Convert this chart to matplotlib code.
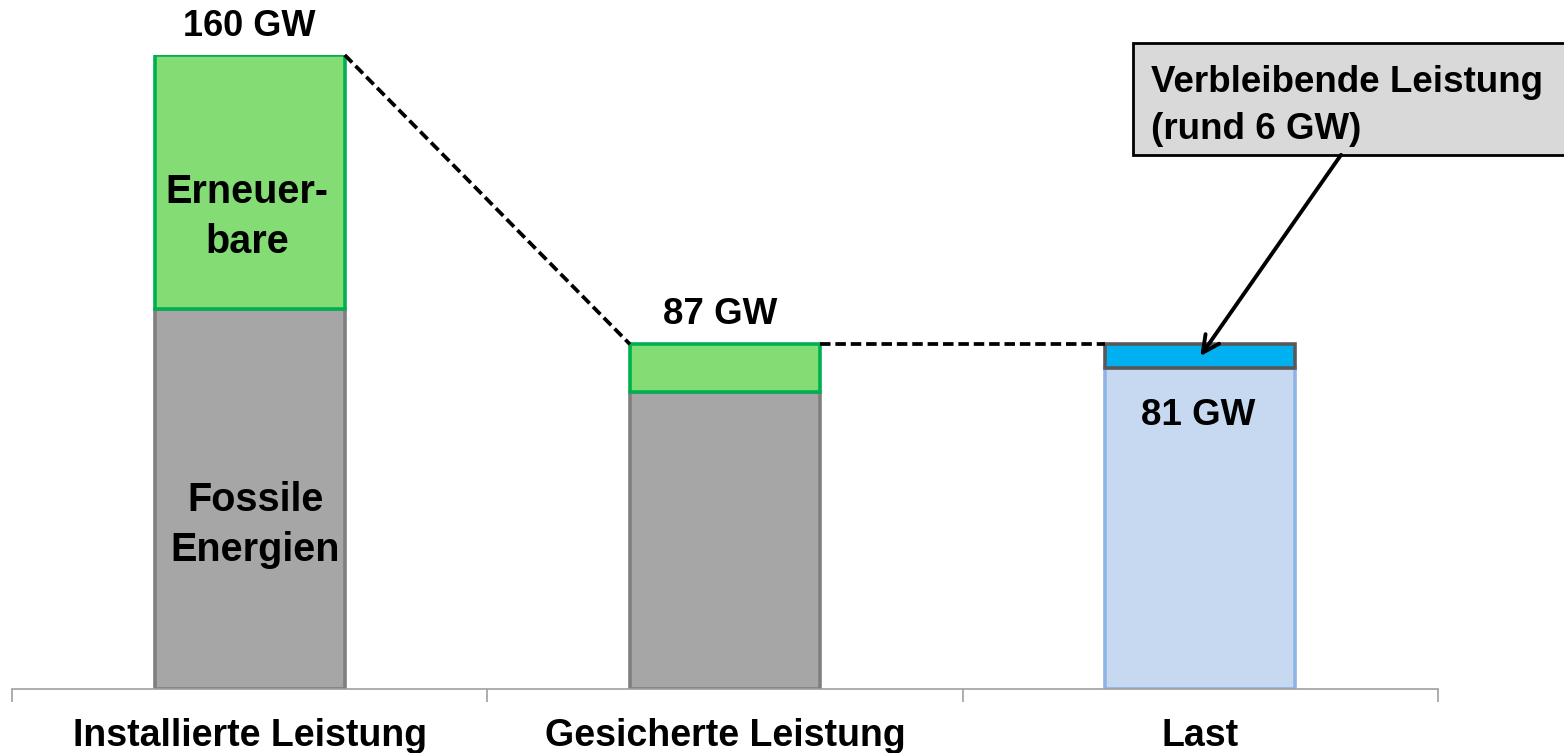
import matplotlib
matplotlib.use('Agg')
import matplotlib.pyplot as plt
from matplotlib.patches import Rectangle

plt.rcParams['font.family'] = ['Liberation Sans', 'DejaVu Sans']
plt.rcParams['font.weight'] = 'bold'

# capacity in GW
categories = ['Installierte Leistung', 'Gesicherte Leistung', 'Last']
fossil = [96, 75]          # Fossile Energien (bars 1 and 2)
renewable = [64, 12]       # Erneuerbare (bars 1 and 2)
load = 81                  # Last
remaining = 6              # verbleibende Leistung
totals = [160, 87]

fig = plt.figure(figsize=(15.64, 7.53), dpi=100)
ax = fig.add_axes([12 / 1564, 64 / 753, 1426 / 1564, 634 / 753])
ax.set_xlim(-0.5, 2.5)
ax.set_ylim(0, 160)

w = 0.4
green_face, green_edge = '#84dc74', '#00b050'
grey_face, grey_edge = '#a6a6a6', '#7f7f7f'

# installed and secured capacity: fossil + renewables
ax.bar([0, 1], fossil, width=w, color=grey_face, edgecolor=grey_edge, linewidth=2.6, zorder=2)
ax.bar([0, 1], renewable, bottom=fossil, width=w, color=green_face, edgecolor=green_edge,
       linewidth=2.6, zorder=3)

# load with the remaining margin on top
ax.bar(2, load, width=w, color='#c6d9f1', edgecolor='#8eb4e3', linewidth=2.6, zorder=2)
ax.bar(2, remaining, bottom=load, width=w, color='#00b0f0', edgecolor='#595959',
       linewidth=2.6, zorder=3)

# dashed connectors between bar tops
dash = (0, (2.8, 1.3))
ax.plot([w / 2, 1 - w / 2], [totals[0], totals[1]], ls=dash, color='black',
        lw=2.7, zorder=4, clip_on=False)
ax.plot([1 + w / 2, 2 - w / 2], [totals[1], load + remaining], ls=dash,
        color='black', lw=2.7, zorder=4, clip_on=False)

# labels
ax.text(0, 167.2, f'{totals[0]} GW', ha='center', va='center', fontsize=26, clip_on=False)
ax.text(-0.005, 119.2, 'Erneuer-\nbare', ha='center', va='center', fontsize=28.5,
        linespacing=1.4)
ax.text(0.012, 41.5, 'Fossile\nEnergien', ha='center', va='center', fontsize=28.5,
        linespacing=1.4)
ax.text(0.99, 94.5, f'{totals[1]} GW', ha='center', va='center', fontsize=26.5)
ax.text(1.995, 69, f'{load} GW', ha='center', va='center', fontsize=26.5, zorder=5)

# callout box for the remaining capacity
box = Rectangle((1.858, 134.8), 1.0, 28.2, facecolor='#d9d9d9', edgecolor='black',
                linewidth=2, clip_on=False, zorder=5)
ax.add_patch(box)
ax.text(1.896, 147.1, f'Verbleibende Leistung\n(rund {remaining} GW)', ha='left',
        va='center', fontsize=26.5, linespacing=1.42, zorder=6, clip_on=False)
ax.annotate('', xy=(2.0, load + remaining / 2), xytext=(2.296, 134.8),
            arrowprops=dict(arrowstyle='->,head_length=1.2,head_width=0.6',
                            color='black', lw=2.8, shrinkA=0, shrinkB=0), zorder=6)

# axis: only a light baseline with separators between categories
for s in ['left', 'right', 'top']:
    ax.spines[s].set_visible(False)
ax.spines['bottom'].set_color('#a0a0a0')
ax.spines['bottom'].set_linewidth(1.2)
ax.set_yticks([])
ax.set_xticks([0, 1, 2])
ax.set_xticklabels(categories, fontsize=27, fontweight='bold')
ax.tick_params(axis='x', which='major', length=0, pad=21)
ax.set_xticks([-0.5, 0.5, 1.5, 2.5], minor=True)
ax.tick_params(axis='x', which='minor', length=9, width=1.2, color='#a0a0a0', direction='out')

fig.savefig('out.png', dpi=100)
